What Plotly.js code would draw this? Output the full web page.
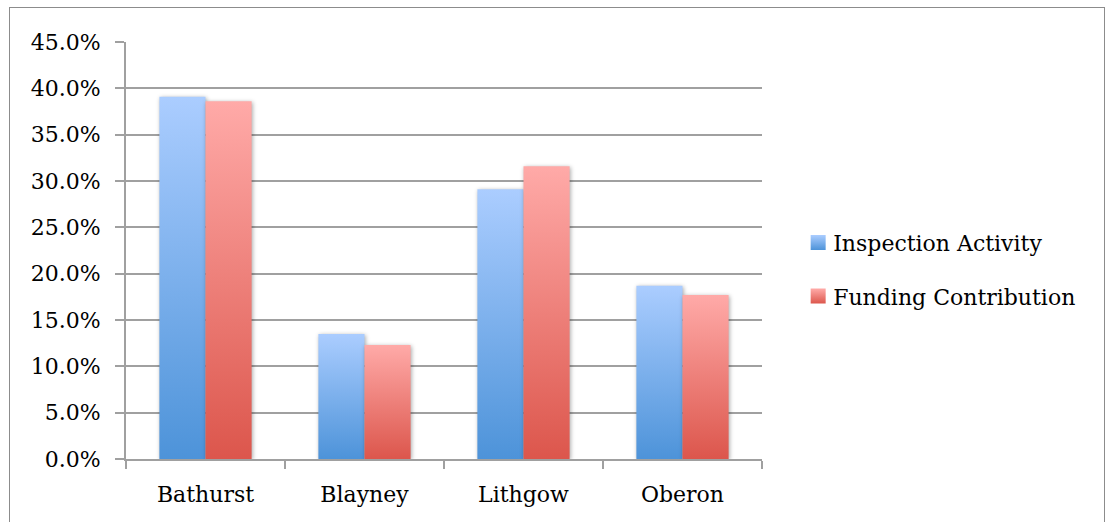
<!DOCTYPE html>
<html>
<head>
<meta charset="utf-8">
<script src="https://cdn.plot.ly/plotly-3.0.1.min.js"></script>
<style>
  html, body { margin: 0; padding: 0; background: #fff; }
  #wrap { position: relative; width: 1107px; height: 522px; overflow: hidden; }
  #chart { position: absolute; left: 0; top: 0; width: 1107px; height: 522px; }
  #frame { position: absolute; left: 9px; top: 7px; width: 1096px; height: 530px;
           border: 1.5px solid #8c8c8c; box-sizing: border-box; pointer-events: none; }
  .barlayer path { filter: drop-shadow(1px 1px 2px rgba(0,0,0,0.35)); }
</style>
</head>
<body>
<div id="wrap">
  <div id="chart"></div>
  <div id="frame"></div>
</div>
<script>
const categories = ['Bathurst', 'Blayney', 'Lithgow', 'Oberon'];
const inspectionActivity = [39.1, 13.5, 29.1, 18.7];
const fundingContribution = [38.6, 12.3, 31.6, 17.7];
const seriesNames = ['Inspection Activity', 'Funding Contribution'];

const FONT = 'DejaVu Serif, Liberation Serif, serif';

const traces = [
  { type: 'bar', name: seriesNames[0], x: categories, y: inspectionActivity,
    marker: { color: '#7fb0ee', line: { width: 0 } }, legendgroup: 'a', hoverinfo: 'none' },
  { type: 'bar', name: seriesNames[1], x: categories, y: fundingContribution,
    marker: { color: '#ee7f7a', line: { width: 0 } }, legendgroup: 'b', hoverinfo: 'none' }
];

const layout = {
  width: 1107, height: 522,
  margin: { l: 126, r: 345, t: 42, b: 63 },
  paper_bgcolor: '#ffffff', plot_bgcolor: '#ffffff',
  font: { family: FONT, size: 22, color: '#000' },
  barmode: 'group', bargap: 0.42, bargroupgap: 0,
  xaxis: {
    type: 'category', showgrid: false, showline: true, linecolor: '#a0a0a0', linewidth: 2,
    ticks: 'outside', tickson: 'boundaries', ticklen: 8, tickcolor: '#a0a0a0', tickwidth: 2,
    tickfont: { family: FONT, size: 22 }, zeroline: false, ticklabelstandoff: 15
  },
  yaxis: {
    range: [0, 45], dtick: 5, tick0: 0, tickformat: '.1f', ticksuffix: '%',
    showgrid: true, gridcolor: '#a0a0a0', gridwidth: 2,
    showline: true, linecolor: '#a0a0a0', linewidth: 2,
    ticks: 'outside', ticklen: 9, tickcolor: '#a0a0a0', tickwidth: 2,
    tickfont: { family: FONT, size: 22 }, zeroline: false, ticklabelstandoff: 10
  },
  showlegend: true,
  legend: {
    x: 1.049, y: 0.454, xanchor: 'left', yanchor: 'middle',
    font: { family: FONT, size: 22 }, traceorder: 'grouped', tracegroupgap: 22,
    bgcolor: 'rgba(0,0,0,0)'
  }
};

function addGradients(gd) {
  const svg = gd.querySelector('svg.main-svg');
  let defs = svg.querySelector('defs');
  if (!defs) { defs = document.createElementNS('http://www.w3.org/2000/svg', 'defs'); svg.insertBefore(defs, svg.firstChild); }
  const grads = [
    { id: 'gBlue', top: '#abcdff', bottom: '#4d93d9' },
    { id: 'gRed', top: '#ffaaa8', bottom: '#dc564c' }
  ];
  grads.forEach(g => {
    const lg = document.createElementNS('http://www.w3.org/2000/svg', 'linearGradient');
    lg.setAttribute('id', g.id); lg.setAttribute('x1', '0'); lg.setAttribute('y1', '0');
    lg.setAttribute('x2', '0'); lg.setAttribute('y2', '1');
    [['0%', g.top], ['100%', g.bottom]].forEach(([o, c]) => {
      const s = document.createElementNS('http://www.w3.org/2000/svg', 'stop');
      s.setAttribute('offset', o); s.setAttribute('stop-color', c); lg.appendChild(s);
    });
    defs.appendChild(lg);
  });
  const ids = ['gBlue', 'gRed'];
  gd.querySelectorAll('.barlayer .trace').forEach((t, i) => {
    t.querySelectorAll('path').forEach(p => { p.style.fill = 'url(#' + ids[i] + ')'; });
  });
  gd.querySelectorAll('.legend .traces').forEach((t, i) => {
    t.querySelectorAll('.legendpoints path').forEach(p => {
      p.style.fill = 'url(#' + ids[i] + ')';
      p.setAttribute('d', 'M12.5,7.5H-2.5V-7.5H12.5Z');
    });
  });
}

Plotly.newPlot('chart', traces, layout, { staticPlot: true, displayModeBar: false })
  .then(addGradients);
</script>
</body>
</html>
